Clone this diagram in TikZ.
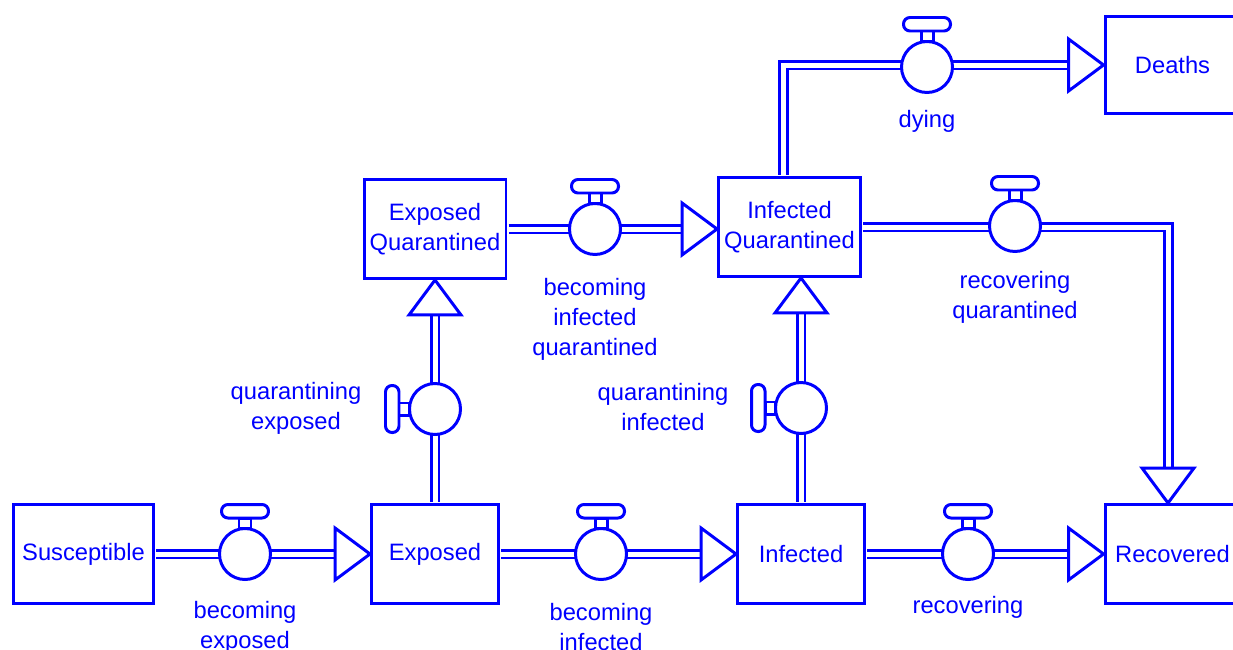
\documentclass[tikz,border=0pt]{standalone}
\usepackage{fontspec}
\setmainfont{Liberation Sans}
\usepackage{tikz}
\usetikzlibrary{calc}
\definecolor{flowblue}{RGB}{0,0,255}

\newcommand{\valve}[3][0]{%
  \node[valve] (#2) at (#3) {};
  \begin{scope}[shift={(#2.center)},rotate=#1]
    \draw[knob] (-6,-25.5) rectangle (6,-36);
    \draw[knob,rounded corners=0.13cm] (-23.5,-36) rectangle (23.5,-49.5);
  \end{scope}}

\begin{document}
\begin{tikzpicture}[x=0.02cm,y=-0.02cm,line width=1.7pt,flowblue,
                    font=\fontsize{13.5}{17}\selectfont]
  \tikzstyle{stock}=[rectangle,draw,fill=white,text=flowblue,minimum width=2.54cm,
                     minimum height=1.98cm,align=center,inner sep=2pt]
  \tikzstyle{pipe}=[draw=flowblue,double=white,double distance=0.1cm,
                    shorten <=0.025cm,shorten >=0.7cm]
  \tikzstyle{head}=[draw,fill=white,line join=miter]
  \tikzstyle{valve}=[circle,draw,fill=white,minimum size=1.02cm,inner sep=0]
  \tikzstyle{knob}=[draw,fill=white]
  \tikzstyle{rate}=[align=center,text=flowblue,inner sep=0]

  \useasboundingbox (0,0) rectangle (1233,649);

  \node[stock,minimum width=2.8cm] (S) at (83.5,554) {Susceptible};
  \node[stock] (E)  at (435,554)  {Exposed};
  \node[stock] (I)  at (801,554)  {Infected};
  \node[stock,minimum width=2.7cm] (R)  at (1172.5,554) {Recovered};
  \node[stock,minimum width=2.84cm] (EQ) at (435,229)   {Exposed\\Quarantined};
  \node[stock,minimum width=2.84cm] (IQ) at (789.5,227) {Infected\\Quarantined};
  \node[stock,minimum width=2.7cm,minimum height=1.94cm] (D) at (1172.5,65) {Deaths};

  % flows
  \draw[pipe] (S.east) -- (E.west);
  \draw[head] (E.west) -- ++(-35,-26) -- ++(0,52) -- cycle;
  \draw[pipe] (E.east) -- (I.west);
  \draw[head] (I.west) -- ++(-35,-26) -- ++(0,52) -- cycle;
  \draw[pipe] (I.east) -- (R.west);
  \draw[head] (R.west) -- ++(-35,-26) -- ++(0,52) -- cycle;
  \draw[pipe] (E.north) -- (EQ.south);
  \draw[head] (EQ.south) -- ++(-26,35) -- ++(52,0) -- cycle;
  \draw[pipe] (I.north) -- (I.north |- IQ.south);
  \draw[head] (I.north |- IQ.south) -- ++(-26,35) -- ++(52,0) -- cycle;
  \draw[pipe] (EQ.east) -- (EQ.east -| IQ.west);
  \draw[head] (EQ.east -| IQ.west) -- ++(-35,-26) -- ++(0,52) -- cycle;
  \draw[pipe] (IQ.east) -| ([xshift=-0.09cm]R.north);
  \draw[head] ([xshift=-0.09cm]R.north) -- ++(-26,-35) -- ++(52,0) -- cycle;
  \draw[pipe] ([xshift=-0.13cm]IQ.north) |- (D.west);
  \draw[head] (D.west) -- ++(-35,-26) -- ++(0,52) -- cycle;

  % valves
  \valve{vSE}{245,554}
  \valve{vEI}{601,554}
  \valve{vIR}{968,554}
  \valve[90]{vEQ}{435,409}
  \valve[90]{vIQ}{801,408}
  \valve{vQQ}{595,229}
  \valve{vQR}{1015,226}
  \valve{vD}{927,67}

  \node[rate] (lSE) at (245,627)  {becoming\\exposed};
  \node[rate] (lEI) at (601,627)  {becoming\\infected};
  \node[rate] (lIR) at (968,607)  {recovering};
  \node[rate] (lEQ) at (296,408)  {quarantining\\exposed};
  \node[rate] (lIQ) at (663,407)  {quarantining\\infected};
  \node[rate] (lQQ) at (595,319)  {becoming\\infected\\quarantined};
  \node[rate] (lQR) at (1015,297) {recovering\\quarantined};
  \node[rate] (lD)  at (927,121)  {dying};
\end{tikzpicture}
\end{document}
